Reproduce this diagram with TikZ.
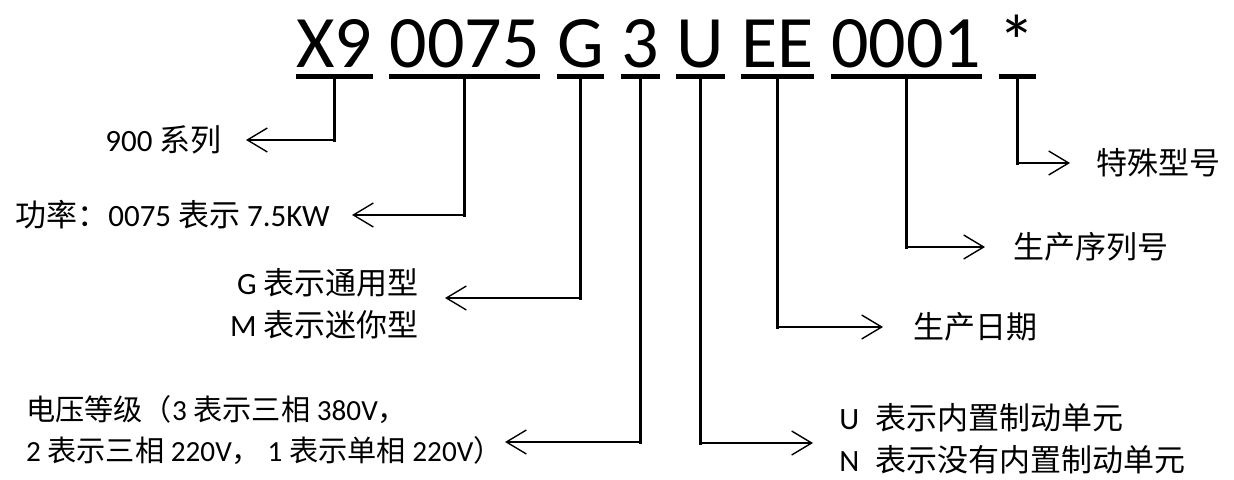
\documentclass[tikz,border=0pt]{standalone}
\usepackage{fontspec}
\setmainfont{Carlito}
\newfontfamily\cjk{Noto Sans CJK SC}
\usepackage{tikz}
\usetikzlibrary{arrows.meta,positioning}
\newcommand{\zh}[1]{{\cjk #1}}
\tikzset{
  seg/.style={inner sep=0pt,font=\fontsize{37}{40}\selectfont},
  ul/.style={line width=2.5pt},
  stem/.style={line width=1.6pt,line cap=rect},
  ar/.style={-{Straight Barb[length=10pt,width=12pt,line width=0.7pt]},line width=1pt},
  lab/.style={inner sep=0pt,font=\fontsize{15.5}{21}\selectfont}
}

\begin{document}
\begin{tikzpicture}[x=0.5pt,y=-0.5pt]
\useasboundingbox (0,0) rectangle (1234,480);
% code segments
\node[seg,anchor=base west] (tX) at (296,68) {X9};
\node[seg,base right=8.36pt of tX] (tP) {0075};
\node[seg,base right=8.36pt of tP] (tG) {G};
\node[seg,base right=8.36pt of tG] (tV) {3};
\node[seg,base right=8.36pt of tV] (tU) {U};
\node[seg,base right=8.36pt of tU] (tE) {EE};
\node[seg,base right=8.36pt of tE] (tN) {0001};
\node[seg,base right=8.36pt of tN] (tS) {*};
\foreach \s in {tX,tP,tG,tV,tU,tE,tN,tS}
  \draw[ul] ([yshift=-4.5pt]\s.base west) -- ([yshift=-4.5pt]\s.base east);
% arrow tips
\coordinate (aX) at (246,140);
\coordinate (aP) at (352,215);
\coordinate (aG) at (445,298);
\coordinate (aV) at (505,442);
\coordinate (aU) at (813,443);
\coordinate (aE) at (883,327);
\coordinate (aN) at (985,247);
\coordinate (aS) at (1070,163);
% labels
\node[lab,left=12pt of aX] (lSeries) {900 \zh{系列}};
\node[lab,left=11pt of aP] (lPower) {\zh{功率：}0075 \zh{表示} 7.5KW};
\node[lab,left=13pt of aG,yshift=-3pt,align=right] (lType) {G \zh{表示通用型}\\M \zh{表示迷你型}};
\node[lab,left=1pt of aV,yshift=6pt,align=left,font=\fontsize{14.6}{20.5}\selectfont] (lVolt)
  {\zh{电压等级（}3 \zh{表示三相} 380V\zh{，}\\2 \zh{表示三相} 220V\zh{，} 1 \zh{表示单相} 220V\zh{）}};
\node[lab,right=13pt of aU,yshift=2pt,align=left] (lBrake)
  {U\hspace{8pt}\zh{表示内置制动单元}\\N\hspace{8pt}\zh{表示没有内置制动单元}};
\node[lab,right=15pt of aE] (lDate) {\zh{生产日期}};
\node[lab,right=14pt of aN] (lSerial) {\zh{生产序列号}};
\node[lab,right=13pt of aS] (lSpecial) {\zh{特殊型号}};
% connectors
\foreach \s/\a in {tX/aX,tP/aP,tG/aG,tV/aV,tU/aU,tE/aE,tN/aN,tS/aS} {
  \draw[stem] ([yshift=-4.5pt]\s.base) -- (\s.base |- \a);
  \draw[ar] (\s.base |- \a) -- (\a);
}
\end{tikzpicture}
\end{document}
